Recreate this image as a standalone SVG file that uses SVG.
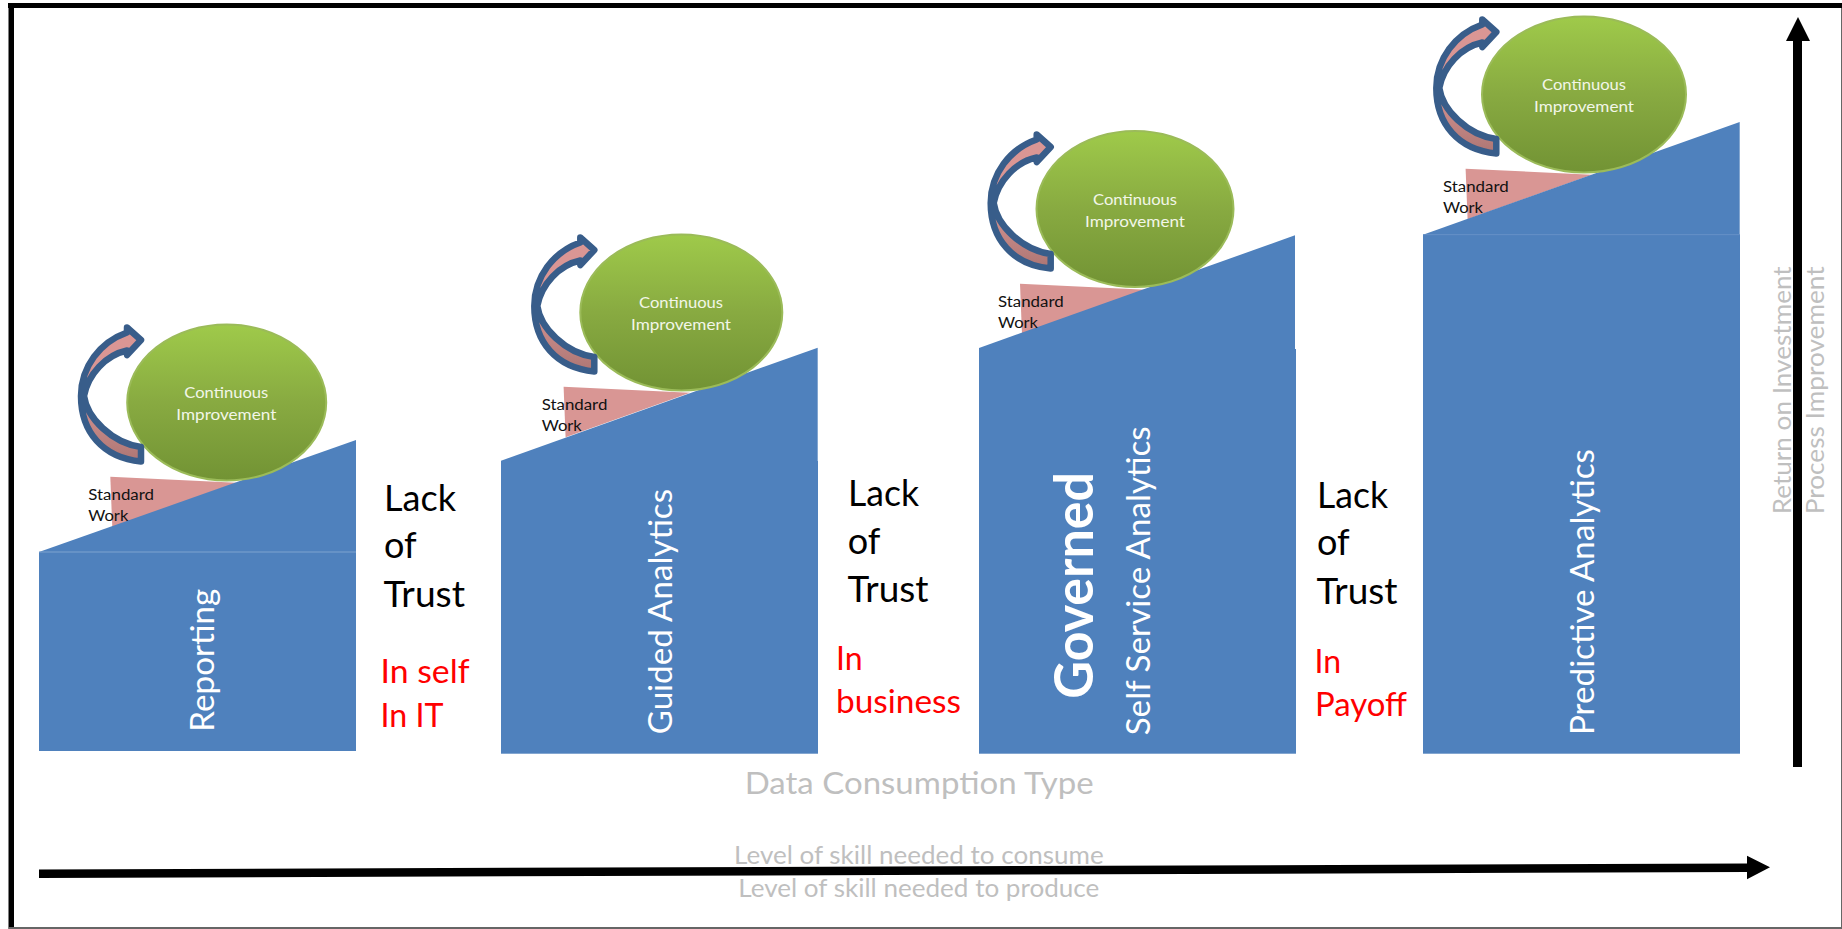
<svg xmlns="http://www.w3.org/2000/svg" width="1842" height="929" viewBox="0 0 1842 929">
<style>
text{font-family:Lato,"Liberation Sans",sans-serif}
.ramp{fill:#4f81bd}
.seam{stroke:#7fa3cf;stroke-width:1}
.std{fill:#d99694}
.ci{fill:url(#green);stroke:#9bbb59;stroke-width:2}
.ci-t{fill:#f2f6e8;font-size:16.2px;text-anchor:middle}
.sw{fill:#111;font-size:15.6px}
.curl{fill:url(#curlfill);stroke:#385d8a;stroke-width:6.5;stroke-linejoin:round}
.v{fill:#fff;font-size:33px}
.lack{fill:#000;font-size:36px}
.red{fill:#f00;font-size:32px}
.grey{fill:#bfbfbf;font-size:25px}
</style>
<defs>
<linearGradient id="green" x1="0" y1="0" x2="0" y2="1"><stop offset="0" stop-color="#9fca4a"/><stop offset=".5" stop-color="#88aa41"/><stop offset="1" stop-color="#729334"/></linearGradient>
<linearGradient id="curlfill" x1="0" y1="0" x2="0" y2="1"><stop offset="0" stop-color="#da9694"/><stop offset=".5" stop-color="#d99694"/><stop offset="1" stop-color="#ad7674"/></linearGradient>
<path id="curl" class="curl" d="M141 461.500C103 458 81 432 81 396C81 367 100 342 127 332.500L127 327.500L141 340L127 355L127 350.500C106 355 88 374 84 396C87 418 112 443 141 447Z"/>
<polygon id="swork" class="std" points="110.300,476.700 236.700,482.700 112.300,527.300"/>
</defs>
<rect width="1842" height="929" fill="#fff"/>
<g id="frame">
<rect x="11" y="5.500" width="1830.500" height="923" fill="none" stroke="#666" stroke-width="1"/>
<rect x="8" y="3" width="1834" height="5" fill="#000"/>
<rect x="8.500" y="3" width="5.500" height="926" fill="#000"/>
<rect x="9" y="927" width="1833" height="2" fill="#666"/>
</g>
<g id="node-reporting">
<use href="#swork"/>
<polygon class="ramp" points="39,552 356,440 356,552"/>
<rect class="ramp" x="39" y="552" width="317" height="199"/>
<line class="seam" x1="39" y1="552" x2="356" y2="552"/>
<ellipse class="ci" cx="226.700" cy="402.500" rx="99.500" ry="78"/>
<use href="#curl"/>
<text class="sw" x="88.300" y="499.700" textLength="65.700" lengthAdjust="spacingAndGlyphs">Standard</text>
<text class="sw" x="88.300" y="521" textLength="40" lengthAdjust="spacingAndGlyphs">Work</text>
<text class="ci-t" x="226.300" y="398.300" textLength="84" lengthAdjust="spacingAndGlyphs">Continuous</text>
<text class="ci-t" x="226.300" y="420" textLength="100" lengthAdjust="spacingAndGlyphs">Improvement</text>
<text class="v" transform="translate(213.800 731.700) rotate(-90)" textLength="143" lengthAdjust="spacingAndGlyphs">Reporting</text>
</g>
<g id="node-guided">
<use href="#swork" transform="translate(453.300 -90)"/>
<polygon class="ramp" points="501,460.700 817.700,347.700 817.700,462 501,462"/>
<rect class="ramp" x="501" y="461" width="317" height="292.700"/>
<ellipse class="ci" cx="681.300" cy="312.500" rx="101" ry="78"/>
<use href="#curl" transform="translate(453.300 -90)"/>
<text class="sw" x="541.700" y="409.700" textLength="65.700" lengthAdjust="spacingAndGlyphs">Standard</text>
<text class="sw" x="541.700" y="431" textLength="40" lengthAdjust="spacingAndGlyphs">Work</text>
<text class="ci-t" x="681" y="308.300" textLength="84" lengthAdjust="spacingAndGlyphs">Continuous</text>
<text class="ci-t" x="681" y="330" textLength="100" lengthAdjust="spacingAndGlyphs">Improvement</text>
<text class="v" transform="translate(672.300 734.300) rotate(-90)" textLength="245.300" lengthAdjust="spacingAndGlyphs">Guided Analytics</text>
</g>
<g id="node-governed">
<use href="#swork" transform="translate(909.700 -193)"/>
<polygon class="ramp" points="979,348 1295,235.300 1295,350 979,350"/>
<rect class="ramp" x="979" y="349" width="317" height="404.700"/>
<ellipse class="ci" cx="1135" cy="209" rx="98.500" ry="78"/>
<use href="#curl" transform="translate(909.700 -193)"/>
<text class="sw" x="998" y="306.700" textLength="65.700" lengthAdjust="spacingAndGlyphs">Standard</text>
<text class="sw" x="998" y="328" textLength="40" lengthAdjust="spacingAndGlyphs">Work</text>
<text class="ci-t" x="1135" y="205.300" textLength="84" lengthAdjust="spacingAndGlyphs">Continuous</text>
<text class="ci-t" x="1135" y="227" textLength="100" lengthAdjust="spacingAndGlyphs">Improvement</text>
<text class="v" transform="translate(1092.700 698.700) rotate(-90)" font-weight="700" style="font-size:53px" textLength="226.700" lengthAdjust="spacingAndGlyphs">Governed</text>
<text class="v" transform="translate(1150 735.300) rotate(-90)" textLength="309" lengthAdjust="spacingAndGlyphs">Self Service Analytics</text>
</g>
<g id="node-predictive">
<use href="#swork" transform="translate(1355.300 -308)"/>
<polygon class="ramp" points="1423,234.700 1739.700,122 1739.700,234.700"/>
<rect class="ramp" x="1423" y="234.700" width="317" height="519"/>
<line class="seam" x1="1423" y1="234.700" x2="1740" y2="234.700" style="stroke:#5f8dc4"/>
<ellipse class="ci" cx="1584" cy="94.500" rx="102" ry="78"/>
<use href="#curl" transform="translate(1355.300 -308)"/>
<text class="sw" x="1443" y="191.700" textLength="65.700" lengthAdjust="spacingAndGlyphs">Standard</text>
<text class="sw" x="1443" y="213" textLength="40" lengthAdjust="spacingAndGlyphs">Work</text>
<text class="ci-t" x="1584" y="90.300" textLength="84" lengthAdjust="spacingAndGlyphs">Continuous</text>
<text class="ci-t" x="1584" y="112" textLength="100" lengthAdjust="spacingAndGlyphs">Improvement</text>
<text class="v" transform="translate(1594 735) rotate(-90)" textLength="286" lengthAdjust="spacingAndGlyphs">Predictive Analytics</text>
</g>
<g id="label-trust-1">
<text class="lack" x="384" y="510.700" textLength="72" lengthAdjust="spacingAndGlyphs">Lack</text>
<text class="lack" x="384" y="558.300">of</text>
<text class="lack" x="383.500" y="606.700" textLength="81.500" lengthAdjust="spacingAndGlyphs">Trust</text>
<text class="red" x="380.500" y="683.300" textLength="89" lengthAdjust="spacingAndGlyphs">In self</text>
<text class="red" x="380.500" y="726.700" textLength="63" lengthAdjust="spacingAndGlyphs">In IT</text>
</g>
<g id="label-trust-2">
<text class="lack" x="848" y="505.700" textLength="71" lengthAdjust="spacingAndGlyphs">Lack</text>
<text class="lack" x="847.700" y="554">of</text>
<text class="lack" x="847.500" y="602.300" textLength="81" lengthAdjust="spacingAndGlyphs">Trust</text>
<text class="red" x="836" y="670">In</text>
<text class="red" x="836" y="713.300" textLength="125" lengthAdjust="spacingAndGlyphs">business</text>
</g>
<g id="label-trust-3">
<text class="lack" x="1317" y="507.700" textLength="71" lengthAdjust="spacingAndGlyphs">Lack</text>
<text class="lack" x="1317" y="555">of</text>
<text class="lack" x="1316.500" y="604" textLength="81" lengthAdjust="spacingAndGlyphs">Trust</text>
<text class="red" x="1314.500" y="673.300">In</text>
<text class="red" x="1315" y="715.700" textLength="92" lengthAdjust="spacingAndGlyphs">Payoff</text>
</g>
<g id="connectors">
<polygon points="39,869.500 1747,863.500 1747,855.700 1770,867.300 1747,879.300 1747,872 39,878" fill="#000"/>
<polygon points="1793,767 1793,41 1786,41 1798,17 1810,41 1802,41 1802,767" fill="#000"/>
</g>
<g id="axis-labels">
<text class="grey" x="744.700" y="794" style="font-size:30px" textLength="349" lengthAdjust="spacingAndGlyphs">Data Consumption Type</text>
<text class="grey" x="734" y="864.300" textLength="369.700" lengthAdjust="spacingAndGlyphs">Level of skill needed to consume</text>
<text class="grey" x="738.300" y="897.300" textLength="361" lengthAdjust="spacingAndGlyphs">Level of skill needed to produce</text>
<text class="grey" transform="translate(1791 514.300) rotate(-90)" textLength="248" lengthAdjust="spacingAndGlyphs">Return on Investment</text>
<text class="grey" transform="translate(1824.300 514.300) rotate(-90)" textLength="248" lengthAdjust="spacingAndGlyphs">Process Improvement</text>
</g>
</svg>
